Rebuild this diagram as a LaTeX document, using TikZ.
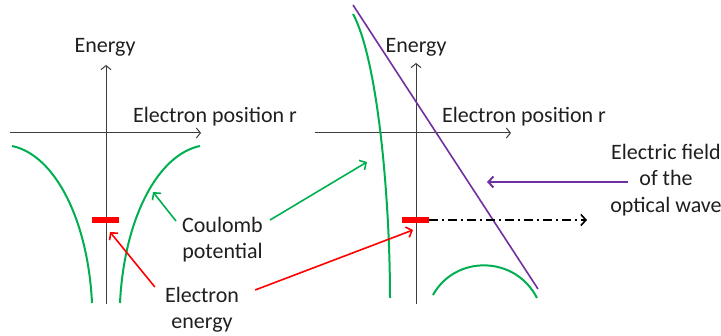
\documentclass[tikz,border=0pt]{standalone}
\usepackage{fontspec}
\setmainfont{Carlito}
\usetikzlibrary{arrows.meta, calc}
\definecolor{curvegreen}{RGB}{0,176,80}
\definecolor{fieldpurple}{RGB}{112,48,160}
\definecolor{levelred}{RGB}{255,0,0}
\definecolor{axisgray}{RGB}{60,60,60}

\begin{document}
\begin{tikzpicture}[x=1pt, y=-1pt,
    lbl/.style={font=\fontsize{22}{26.5}\selectfont, inner sep=0pt, text=black!88, align=center},
    axis/.style={axisgray, line width=1pt, -{Straight Barb[length=4pt,width=10pt]}},
    potential/.style={curvegreen, line width=2pt},
    level/.style={fill=levelred, minimum width=27pt, minimum height=6pt, inner sep=0pt},
    pointer/.style={line width=1.6pt, -{Straight Barb[length=5pt,width=11pt]}}]
    \useasboundingbox (0,0) rectangle (721,336);

    % Left panel: axes
    \draw[axis] (10,133) -- (201,133);
    \draw[axis] (106,304) -- (106,65);
    \node[lbl, anchor=base] (lenergy) at (105,53) {Energy};
    \node[lbl, anchor=base west] (lpos) at (133,123) {Electron position r};

    % Left panel: Coulomb potential
    \draw[potential] (12,146) .. controls (55,155) and (88,220) .. (92,303);
    \draw[potential] (200,146) .. controls (157,155) and (124,220) .. (120,303);
    \node[level] (lbar) at (105.5,220) {};

    % Right panel: axes
    \draw[axis] (315,133) -- (511,133);
    \draw[axis] (416,304) -- (416,63);
    \node[lbl, anchor=base] (renergy) at (416,53) {Energy};
    \node[lbl, anchor=base west] (rpos) at (442,123) {Electron position r};

    % Right panel: tilted potential and optical field
    \draw[potential] (353,14) .. controls (378,60) and (390,200) .. (390,298);
    \draw[potential] (433,295) .. controls (455,255) and (515,255) .. (537,298);
    \draw[fieldpurple, line width=1.6pt] (353,5) -- (538,289);
    \node[level] (rbar) at (415,220) {};

    % Labels
    \node[lbl] (coul) at (222.5,239.6) {Coulomb\\potential};
    \node[lbl] (elen) at (202,310) {Electron\\energy};
    \node[lbl] (efield) at (666,180) {Electric field\\of the\\optical wave};

    % Pointers
    \coordinate (lcurvept) at (153,192);
    \coordinate (rcurvept) at (367,162);
    \coordinate (llevelpt) at (110,232);
    \coordinate (rlevelpt) at (413,230);
    \coordinate (fieldpt) at (487,182);
    \coordinate (escapept) at (587,220);
    \draw[pointer, curvegreen] ($(coul.west)+(-6,-18.6)$) -- (lcurvept);
    \draw[pointer, curvegreen] ($(coul.east)+(7,-19.6)$) -- (rcurvept);
    \draw[pointer, levelred] ($(elen.west)+(-10,-23)$) -- (llevelpt);
    \draw[pointer, levelred] ($(elen.east)+(16,-20)$) -- (rlevelpt);
    \draw[pointer, fieldpurple, line width=2pt] ($(efield.center)+(-38,2)$) -- (fieldpt);

    % Escape of the electron
    \draw[line width=1.6pt, dash pattern=on 9pt off 4pt on 2pt off 4pt,
        -{Straight Barb[length=5pt,width=11pt]}] (rbar.east) -- (escapept);
\end{tikzpicture}
\end{document}
